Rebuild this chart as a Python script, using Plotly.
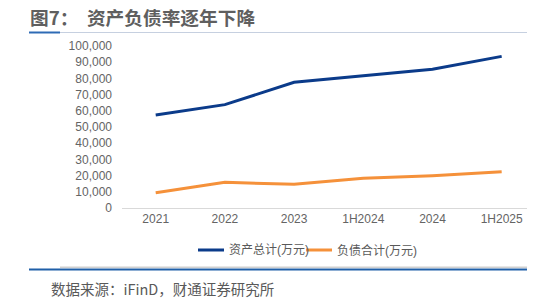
import plotly.graph_objects as go

categories = ["2021", "2022", "2023", "1H2024", "2024", "1H2025"]
total_assets = [57400, 63800, 77600, 81700, 85600, 93600]
total_liabilities = [9400, 15900, 14600, 18300, 19900, 22400]
y_ticks = list(range(0, 100001, 10000))
series_names = ["资产总计(万元)", "负债合计(万元)"]
colors = ["#0b3b8a", "#f5913a"]

W, H = 533, 299
L, R, T, B = 122, 6, 46, 91
PW, PH = W - L - R, H - T - B

def px(x):
    return (x - L) / PW

def py(y):
    return (H - B - y) / PH

fig = go.Figure()
for name, vals, c in zip(series_names, [total_assets, total_liabilities], colors):
    fig.add_trace(go.Scatter(x=list(range(len(categories))), y=vals, mode="lines",
                             line=dict(color=c, width=3), name=name, showlegend=False,
                             hoverinfo="skip"))

font_cjk = "Liberation Sans, Noto Sans CJK SC, sans-serif"

fig.update_layout(
    width=W, height=H,
    margin=dict(l=L, r=R, t=T, b=B),
    paper_bgcolor="white", plot_bgcolor="white",
    xaxis=dict(range=[-0.487, 5.366], tickmode="array", tickvals=list(range(len(categories))),
               ticktext=categories, showgrid=False, zeroline=False, showline=True,
               linecolor="#d9d9d9", linewidth=1, ticks="", ticklen=0,
               tickfont=dict(family=font_cjk, size=12, color="#646464"), fixedrange=True),
    yaxis=dict(range=[0, 100000], tickmode="array", tickvals=y_ticks,
               ticktext=[f"{v:,}" for v in y_ticks], showgrid=False, zeroline=False,
               showline=False, ticks="", ticklabelstandoff=9,
               tickfont=dict(family=font_cjk, size=12, color="#646464"), fixedrange=True),
    font=dict(family=font_cjk),
)

shapes = []
annotations = []
# top rule
shapes.append(dict(type="line", xref="paper", yref="paper", x0=px(60), x1=px(527), y0=py(32.5), y1=py(32.5),
                   line=dict(color="#c6d0e0", width=1)))
shapes.append(dict(type="line", xref="paper", yref="paper", x0=px(29), x1=px(60), y0=py(32.5), y1=py(32.5),
                   line=dict(color="#2e6bb5", width=2)))
# bottom rules
shapes.append(dict(type="line", xref="paper", yref="paper", x0=px(60), x1=px(527), y0=py(267.3), y1=py(267.3),
                   line=dict(color="#d0d0d0", width=1.5)))
shapes.append(dict(type="line", xref="paper", yref="paper", x0=px(29), x1=px(527), y0=py(269.5), y1=py(269.5),
                   line=dict(color="#1f5fa8", width=2)))
# legend
leg_items = [(198, 224, 227), (306, 332, 335)]
for (x0, x1, tx), name, c in zip(leg_items, series_names, colors):
    shapes.append(dict(type="line", xref="paper", yref="paper", x0=px(x0), x1=px(x1), y0=py(250), y1=py(250),
                       line=dict(color=c, width=3)))
    annotations.append(dict(xref="paper", yref="paper", x=px(tx), y=py(250), text=name, showarrow=False,
                            xanchor="left", yanchor="middle", font=dict(family=font_cjk, size=12, color="#595959")))

annotations.append(dict(xref="paper", yref="paper", x=px(28), y=py(16), text="<b>图7：  资产负债率逐年下降</b>",
                        showarrow=False, xanchor="left", yanchor="middle",
                        font=dict(family="Noto Sans CJK SC", size=18.7, color="#5f5f5f")))
annotations.append(dict(xref="paper", yref="paper", x=px(49), y=py(288), text="数据来源：iFinD，财通证券研究所",
                        showarrow=False, xanchor="left", yanchor="middle",
                        font=dict(family="Noto Sans CJK SC", size=14.5, color="#595959")))

fig.update_layout(shapes=shapes, annotations=annotations)
fig.write_html("out.html")
